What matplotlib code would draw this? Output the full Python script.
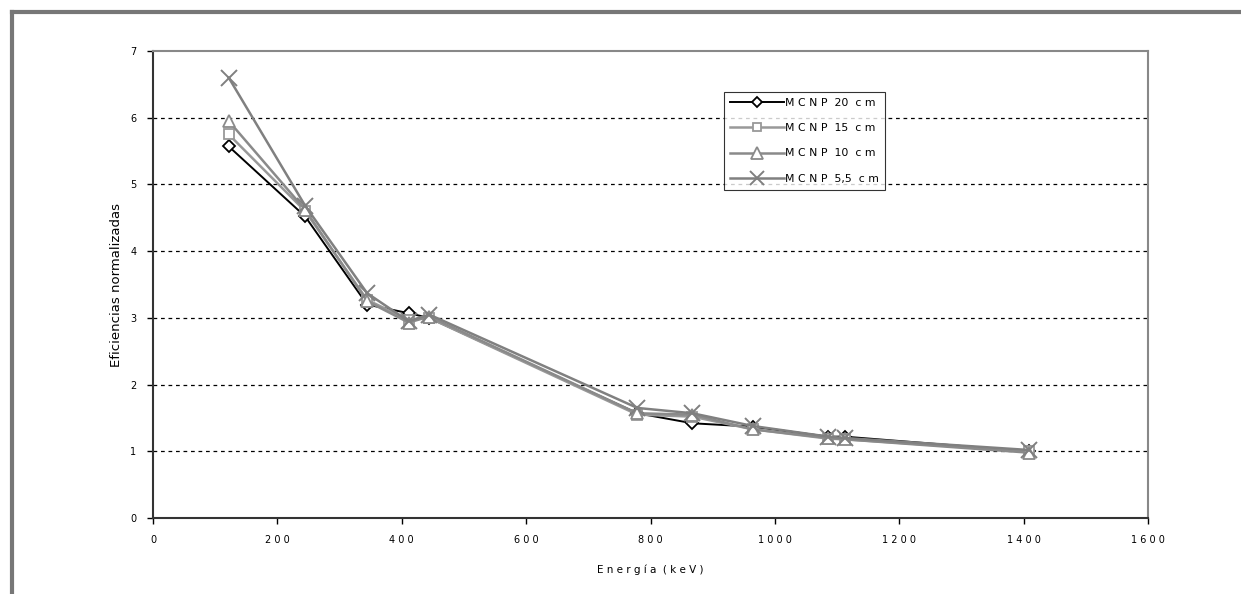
import matplotlib.pyplot as plt
from matplotlib.lines import Line2D

energia = [121.8, 244.7, 344.3, 411.1, 444.0, 778.9, 867.4, 964.1, 1085.8, 1112.1, 1408.0]

mcnp_20 = [5.57, 4.52, 3.20, 3.07, 3.00, 1.57, 1.42, 1.37, 1.22, 1.22, 1.00]
mcnp_15 = [5.75, 4.60, 3.27, 2.97, 3.00, 1.55, 1.52, 1.33, 1.19, 1.18, 1.00]
mcnp_10 = [5.95, 4.62, 3.25, 2.93, 3.02, 1.57, 1.55, 1.33, 1.20, 1.18, 0.98]
mcnp_55 = [6.60, 4.68, 3.37, 2.95, 3.05, 1.65, 1.57, 1.38, 1.22, 1.20, 1.02]

etiquetas = ['M C N P  20  c m', 'M C N P  15  c m', 'M C N P  10  c m', 'M C N P  5,5  c m']
xticks = [0, 200, 400, 600, 800, 1000, 1200, 1400, 1600]
yticks = [0, 1, 2, 3, 4, 5, 6, 7]


def spaced(s):
    return ' '.join(s)


fig = plt.figure(figsize=(12.41, 5.94), dpi=100)

# marco exterior gris
fig.add_artist(Line2D([0.0095, 1.0], [0.9805, 0.9805], color='#777777', lw=3,
                      transform=fig.transFigure))
fig.add_artist(Line2D([0.0095, 0.0095], [0.0, 0.9805], color='#777777', lw=3,
                      transform=fig.transFigure))

ax = fig.add_axes([0.1233, 0.1279, 0.8018, 0.7862])

ax.plot(energia, mcnp_20, color='black', lw=1.4, marker='D', ms=6,
        mfc='white', mec='black', mew=1.3, label=etiquetas[0], zorder=2)
ax.plot(energia, mcnp_15, color='#999999', lw=1.8, marker='s', ms=7,
        mfc='white', mec='#999999', mew=1.3, label=etiquetas[1], zorder=3)
ax.plot(energia, mcnp_10, color='#8a8a8a', lw=1.8, marker='^', ms=9,
        mfc='white', mec='#8a8a8a', mew=1.3, label=etiquetas[2], zorder=4)
ax.plot(energia, mcnp_55, color='#808080', lw=1.8, marker='x', ms=11,
        mec='#808080', mew=1.4, label=etiquetas[3], zorder=5)

ax.set_xlim(0, 1600)
ax.set_ylim(0, 7)
ax.set_xticks(xticks)
ax.set_xticklabels([spaced(str(t)) for t in xticks], fontsize=7)
ax.set_yticks(yticks)
ax.set_yticklabels([str(t) for t in yticks], fontsize=7)
ax.tick_params(direction='out', length=4, width=1, pad=8)

for y in yticks[1:-1]:
    ax.axhline(y, color='black', lw=0.9, ls=(0, (3, 3)), zorder=1)

ax.spines['left'].set_color('#333333')
ax.spines['bottom'].set_color('#333333')
ax.spines['left'].set_linewidth(1.5)
ax.spines['bottom'].set_linewidth(1.5)
ax.spines['top'].set_color('#888888')
ax.spines['right'].set_color('#888888')
ax.spines['top'].set_linewidth(1.5)
ax.spines['right'].set_linewidth(1.5)

ax.set_xlabel('E n e r g í a  ( k e V )', fontsize=7.5, labelpad=14)
ax.set_ylabel('Eficiencias normalizadas', fontsize=9.5, labelpad=5)

leg = ax.legend(loc='upper left', bbox_to_anchor=(0.574, 0.912), fontsize=7.8,
                frameon=True, fancybox=False, edgecolor='black',
                handlelength=5.0, labelspacing=1.4, borderpad=0.55,
                handletextpad=0.1, borderaxespad=0, markerscale=0.9)
leg.get_frame().set_linewidth(0.8)

fig.savefig('out.png', dpi=100)
